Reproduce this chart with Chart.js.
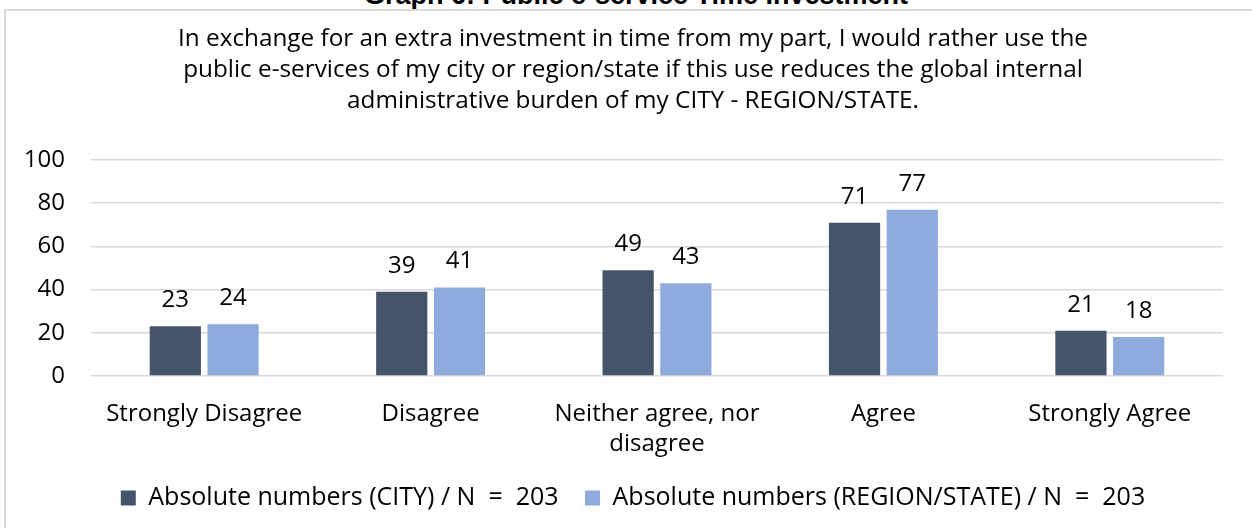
<!DOCTYPE html>
<html>
<head>
<meta charset="utf-8">
<script src="https://cdn.jsdelivr.net/npm/chart.js@4/dist/chart.umd.min.js"></script>
<style>
  html, body { margin: 0; padding: 0; background: #fff; overflow: hidden; }
  #wrap { position: relative; width: 1252px; height: 528px; }
  #heading {
    position: absolute; left: 0; width: 1272px; top: -20px; line-height: 30px;
    text-align: center; font: bold 27px "Liberation Sans", Arial, sans-serif; color: #000;
  }
  #frame {
    position: absolute; left: 4px; top: 9px; width: 1300px; height: 600px;
    border-left: 2px solid #d9d9d9; border-top: 2px solid #d9d9d9;
  }
  canvas { position: absolute; left: 0; top: 0; }
</style>
</head>
<body>
<div id="wrap">
  <div id="heading">Graph 6: Public e-service Time Investment</div>
  <div id="frame"></div>
  <canvas id="myBarChart" width="1252" height="528"></canvas>
</div>
<script>
// values
const categories = ['Strongly Disagree', 'Disagree', ['Neither agree, nor', 'disagree'], 'Agree', 'Strongly Agree'];
const cityValues = [23, 39, 49, 71, 21];
const regionValues = [24, 41, 43, 77, 18];
const yTicks = [0, 20, 40, 60, 80, 100];
const titleLines = [
  'In exchange for an extra investment in time from my part, I would rather use the',
  'public e-services of my city or region/state if this use reduces the global internal',
  'administrative burden of my CITY - REGION/STATE.'
];

const fontFamily = '"Open Sans", sans-serif';

// draws the value above each bar
const valueLabels = {
  id: 'valueLabels',
  afterDatasetsDraw(chart) {
    const ctx = chart.ctx;
    ctx.save();
    ctx.font = '24px ' + fontFamily;
    ctx.fillStyle = '#000';
    ctx.textAlign = 'center';
    ctx.textBaseline = 'alphabetic';
    chart.data.datasets.forEach((ds, i) => {
      chart.getDatasetMeta(i).data.forEach((bar, j) => {
        ctx.fillText(ds.data[j], bar.x, bar.y - 19);
      });
    });
    ctx.restore();
  }
};

var chartEl = document.getElementById('myBarChart');

var myBarChart = new Chart(chartEl, {
  type: 'bar',
  data: {
    labels: categories,
    datasets: [{
      label: 'Absolute numbers (CITY) / N  =  203',
      data: cityValues,
      backgroundColor: '#44546a',
      categoryPercentage: 0.51,
      barPercentage: 0.887
    },
    {
      label: 'Absolute numbers (REGION/STATE) / N  =  203',
      data: regionValues,
      backgroundColor: '#8faadc',
      categoryPercentage: 0.51,
      barPercentage: 0.887
    }]
  },
  options: {
    responsive: false,
    animation: false,
    layout: { padding: { left: 24, right: 10, top: 0, bottom: 7.5 } },
    plugins: {
      title: {
        display: true,
        text: titleLines,
        color: '#000',
        font: { family: fontFamily, size: 24.3, weight: 'normal', lineHeight: 1.276 },
        padding: { top: 24, bottom: 43 }
      },
      legend: {
        display: true,
        position: 'bottom',
        labels: {
          boxWidth: 15,
          boxHeight: 15,
          padding: 26.5,
          color: '#000',
          font: { family: fontFamily, size: 25 }
        }
      },
      tooltip: { enabled: false }
    },
    scales: {
      x: {
        grid: { display: false, drawTicks: false },
        border: { display: false },
        ticks: {
          color: '#000',
          font: { family: fontFamily, size: 24, lineHeight: 1.25 },
          padding: 23,
          maxRotation: 0,
          autoSkip: false
        },
        afterFit(scale) {
          // keep the plot edges where the reference has them
          scale.paddingLeft = 0;
          scale.paddingRight = 29;
          scale.height = 83;
        }
      },
      y: {
        min: 0,
        max: 100,
        afterBuildTicks(scale) {
          scale.ticks = yTicks.map(v => ({ value: v }));
        },
        afterFit(scale) {
          scale.width = 67;
        },
        grid: { color: '#d9d9d9', lineWidth: 1.5, drawTicks: false },
        border: { display: false },
        ticks: {
          color: '#000',
          font: { family: fontFamily, size: 24 },
          padding: 26
        }
      }
    }
  },
  plugins: [valueLabels]
});
</script>
</body>
</html>
